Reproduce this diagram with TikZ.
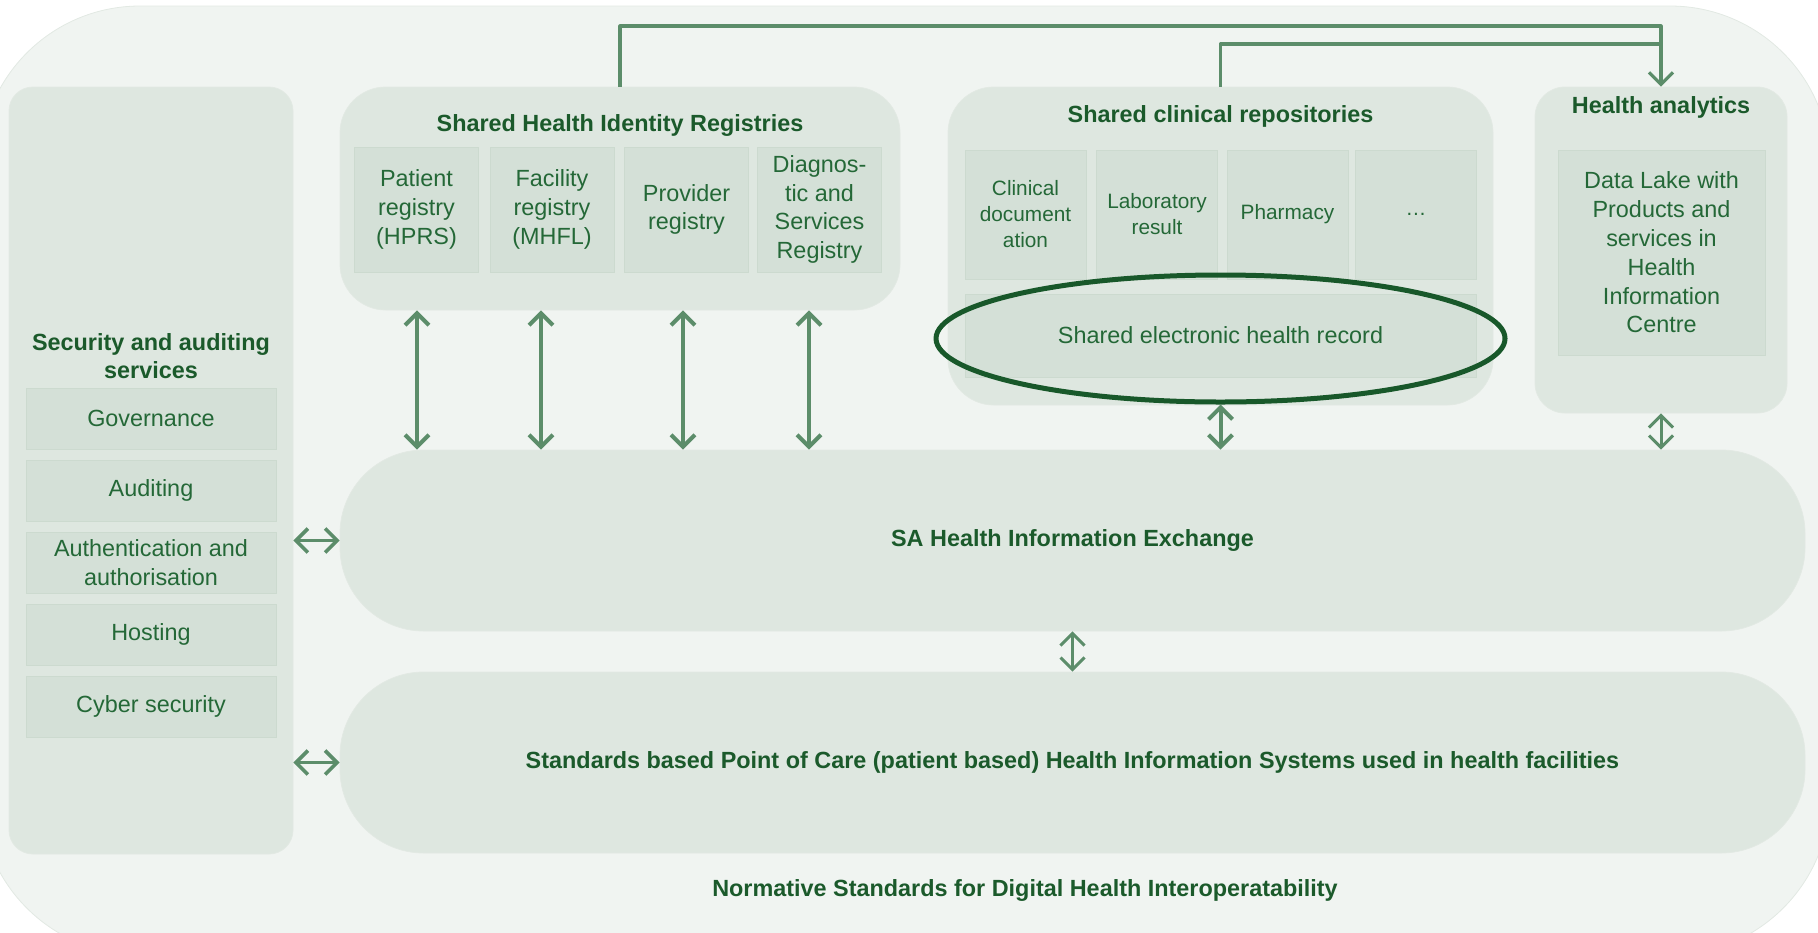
\documentclass[tikz,border=0pt]{standalone}
\usepackage{fontspec}
\setmainfont{Liberation Sans}
\usetikzlibrary{arrows.meta,shapes.geometric}

\definecolor{bgfill}{HTML}{F0F4F1}
\definecolor{bgline}{HTML}{E2E9E3}
\definecolor{panelfill}{HTML}{DEE7E0}
\definecolor{cellfill}{HTML}{D4E0D7}
\definecolor{cellline}{HTML}{CCDACF}
\definecolor{arrowgreen}{HTML}{5C8D6A}
\definecolor{ringgreen}{HTML}{18582A}
\definecolor{headgreen}{HTML}{1B5A2B}
\definecolor{txtgreen}{HTML}{246837}

\begin{document}
\begin{tikzpicture}[x=0.5pt, y=-0.5pt, >={Straight Barb[length=6pt,width=12pt]},
    every node/.style={font=\fontsize{11.7}{14.4}\selectfont, text=txtgreen, align=center},
    head/.style={font=\fontsize{11.7}{14}\selectfont\bfseries, text=headgreen},
    small/.style={font=\fontsize{10.4}{13}\selectfont},
    panel/.style={fill=panelfill, draw=bgline, line width=0.4pt, inner sep=0},
    cell/.style={fill=cellfill, draw=cellline, line width=0.4pt, inner sep=0},
    dbl/.style={<->, draw=arrowgreen, line width=2pt, line cap=round, line join=round},
    link/.style={draw=arrowgreen, line width=1.6pt, line join=round}]

    \useasboundingbox (0,0) rectangle (1818,932);
    \clip (0,0) rectangle (1818,932);
    \fill[bgfill, draw=bgline, rounded corners=80pt] (-20,6) rectangle (1830,955);

    % security column
    \node[panel, rounded corners=12pt, minimum width=142pt, minimum height=383.5pt] (sec) at (151,470.5) {};
    \node[head] (sec-title) at (151,356) {Security and auditing\\services};
    \foreach \t [count=\i] in {Governance, Auditing, {Authentication and\\authorisation}, Hosting, Cyber security}
      \node[cell, minimum width=125pt, minimum height=30.5pt] (sec-\i) at (151,346.5+72*\i) {\t};

    % registries
    \node[panel, rounded corners=23pt, minimum width=280pt, minimum height=111.5pt] (reg) at (620,198.5) {};
    \node[head] (reg-title) at (620,125) {Shared Health Identity Registries};
    \foreach \t/\x [count=\i] in {{Patient\\registry\\(HPRS)}/416.5, {Facility\\registry\\(MHFL)}/552,
        {Provider\\registry}/686.5, {Diagnos-\\tic and\\Services\\Registry}/819.5}
      \node[cell, minimum width=62pt, minimum height=62.5pt] (reg-\i) at (\x,209.5) {\t};

    % clinical repositories
    \node[panel, rounded corners=23pt, minimum width=272.5pt, minimum height=159pt] (repo) at (1220.5,246) {};
    \node[head] (repo-title) at (1220.5,116) {Shared clinical repositories};
    \foreach \t/\x [count=\i] in {{Clinical\\document\\ation}/1025.5, {Laboratory\\result}/1157,
        Pharmacy/1287.5, {\dots}/1416}
      \node[cell, small, minimum width=60.5pt, minimum height=64.5pt] (repo-\i) at (\x,214.5) {\t};
    \node[cell, minimum width=255.5pt, minimum height=41.5pt] (ehr) at (1220.5,335.5) {Shared electronic health record};
    \node[ellipse, draw=ringgreen, line width=2.5pt, inner sep=0, minimum width=284.5pt, minimum height=63.5pt] (ehr-ring) at (1220.5,338.5) {};

    % analytics
    \node[panel, rounded corners=15pt, minimum width=126pt, minimum height=163pt] (ha) at (1661,250) {};
    \node[head] (ha-title) at (1661,107) {Health analytics};
    \node[cell, minimum width=103.5pt, minimum height=102.5pt] (lake) at (1661.5,252.5)
      {Data Lake with\\Products and\\services in\\Health\\Information\\Centre};

    \node[panel, head, rounded corners=42pt, minimum width=732.5pt, minimum height=90.5pt] (hie) at (1072.5,540.5)
      {SA Health Information Exchange};
    \node[panel, head, rounded corners=42pt, minimum width=732.5pt, minimum height=90.5pt] (poc) at (1072.5,762.5)
      {Standards based Point of Care (patient based) Health Information Systems used in health facilities};
    \node[head] (norm) at (1025,890) {Normative Standards for Digital Health Interoperatability};

    \foreach \x in {417,541,683,809}
      \draw[dbl] (reg.south -| \x,0) -- (hie.north -| \x,0);
    \draw[dbl] (ehr-ring.south) -- (hie.north -| ehr-ring.south);
    \draw[dbl, line width=1.5pt] (ha.south) -- (hie.north -| ha.south);
    \draw[dbl, line width=1.5pt] (hie.south) -- (poc.north);
    \draw[dbl, line width=1.8pt] (sec.east |- hie.west) -- (hie.west);
    \draw[dbl, line width=1.8pt] (sec.east |- poc.west) -- (poc.west);

    \draw[link, ->] (reg.north) -- (reg.north |- 0,26) -| (ha.north);
    \draw[link] (repo.north) -- (repo.north |- 0,44) -- (ha.north |- 0,44);

\end{tikzpicture}
\end{document}
